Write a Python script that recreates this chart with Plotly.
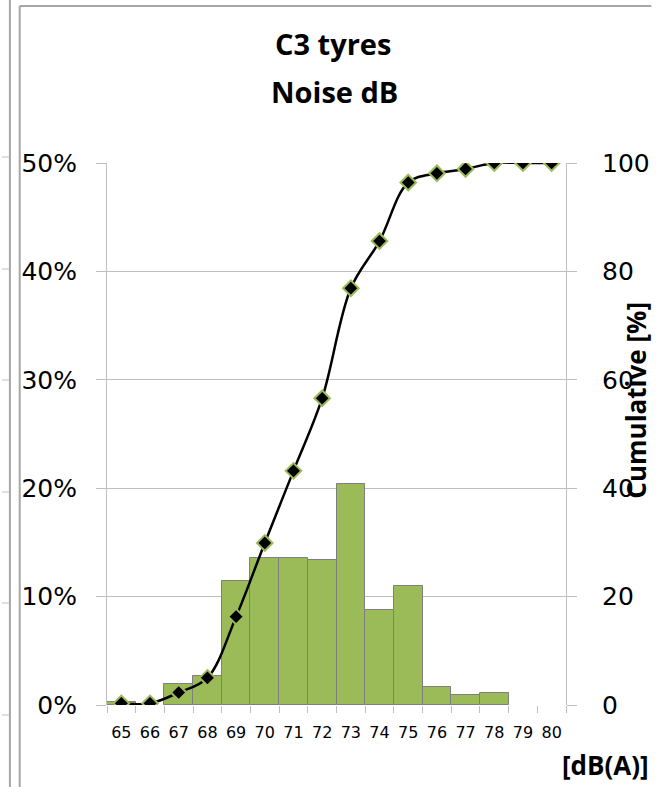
import plotly.graph_objects as go

# ---- data ----
categories = ["65", "66", "67", "68", "69", "70", "71", "72", "73", "74", "75", "76", "77", "78", "79", "80"]
share_pct = [0.3, 0.0, 1.9, 2.7, 11.4, 13.6, 13.6, 13.4, 20.4, 8.8, 11.0, 1.7, 0.9, 1.1, 0.0, 0.0]
cumulative = [0.3, 0.3, 2.3, 5.0, 16.3, 29.9, 43.2, 56.6, 76.9, 85.6, 96.4, 98.1, 98.9, 100.0, 100.0, 100.0]
title_lines = ["C3 tyres", "Noise dB"]
y2_title = "Cumulative [%]"
x_title = "[dB(A)]"

W, H = 662, 787
L, R, T, B = 107, 87, 163, 82
PW, PH = W - L - R, H - T - B

def px(x):
    return (x - L) / PW

def py(y):
    return (H - B - y) / PH

GREEN = "#9BBB59"
GRID = "#BFBFBF"
FRAME = "#A6A6A6"
TICKFONT = dict(family="DejaVu Sans", size=25, color="#000000")
BOLD = "Open Sans"

fig = go.Figure()
fig.add_trace(go.Bar(
    x=categories, y=[v / 100 if v else None for v in share_pct],
    marker=dict(color=GREEN, line=dict(color="#7F7F7F", width=1)),
    yaxis="y", showlegend=False,
))
fig.add_trace(go.Scatter(
    x=categories, y=cumulative, yaxis="y2", mode="lines+markers",
    line=dict(color="#000000", width=2.5, shape="spline", smoothing=1),
    marker=dict(symbol="diamond", size=12, color="#000000", line=dict(color=GREEN, width=2)),
    showlegend=False,
))

fig.update_layout(
    width=W, height=H,
    margin=dict(l=L, r=R, t=T, b=B, pad=0),
    paper_bgcolor="white", plot_bgcolor="white",
    bargap=0,
    xaxis=dict(
        type="category", range=[-0.5, 15.5], tickson="boundaries",
        ticks="outside", ticklen=7, tickcolor=GRID, tickwidth=1,
        showgrid=False, showline=False, zeroline=False, tickangle=0,
        tickfont=dict(family="DejaVu Sans", size=16, color="#000000"),
        ticklabelstandoff=16,
    ),
    yaxis=dict(
        range=[0, 0.5], dtick=0.1, tickformat=".0%",
        showgrid=True, gridcolor=GRID, gridwidth=1,
        showline=True, linecolor=GRID, linewidth=1,
        ticks="outside", ticklen=10, tickcolor=GRID,
        zeroline=False, tickfont=TICKFONT, ticklabelstandoff=14,
    ),
    yaxis2=dict(
        range=[0, 100], dtick=20, overlaying="y", side="right",
        showgrid=False, showline=True, linecolor=GRID, linewidth=1,
        ticks="outside", ticklen=10, tickcolor=GRID,
        zeroline=False, tickfont=TICKFONT, ticklabelstandoff=20,
    ),
)

def note(text, x, y, size, angle=0):
    fig.add_annotation(text="<b>%s</b>" % text, xref="paper", yref="paper",
                       x=px(x), y=py(y), xanchor="center", yanchor="middle",
                       showarrow=False, textangle=angle,
                       font=dict(family=BOLD, size=size, color="#000000"))

note(title_lines[0], 337, 44, 29)
note(title_lines[1], 339, 91, 29)
note(y2_title, 646, 400, 26, angle=-90)
note(x_title, 615, 765, 26)

# frame decorations (neighbouring chart borders)
shapes = [
    dict(type="line", xref="paper", yref="paper", x0=px(8), x1=px(8), y0=py(0), y1=py(H),
         line=dict(color=FRAME, width=2)),
    dict(type="line", xref="paper", yref="paper", x0=px(18), x1=px(18), y0=py(6), y1=py(H),
         line=dict(color=FRAME, width=2)),
    dict(type="line", xref="paper", yref="paper", x0=px(18), x1=px(W), y0=py(6), y1=py(6),
         line=dict(color=FRAME, width=2)),
]
for yy in [157, 269, 380, 492, 603, 715]:
    shapes.append(dict(type="line", xref="paper", yref="paper", x0=px(0), x1=px(7),
                       y0=py(yy), y1=py(yy), line=dict(color=GRID, width=1)))
fig.update_layout(shapes=shapes)

fig.write_html("out.html", config={"displayModeBar": False},
               post_script="document.body.style.margin='0';document.body.style.overflow='hidden';")
